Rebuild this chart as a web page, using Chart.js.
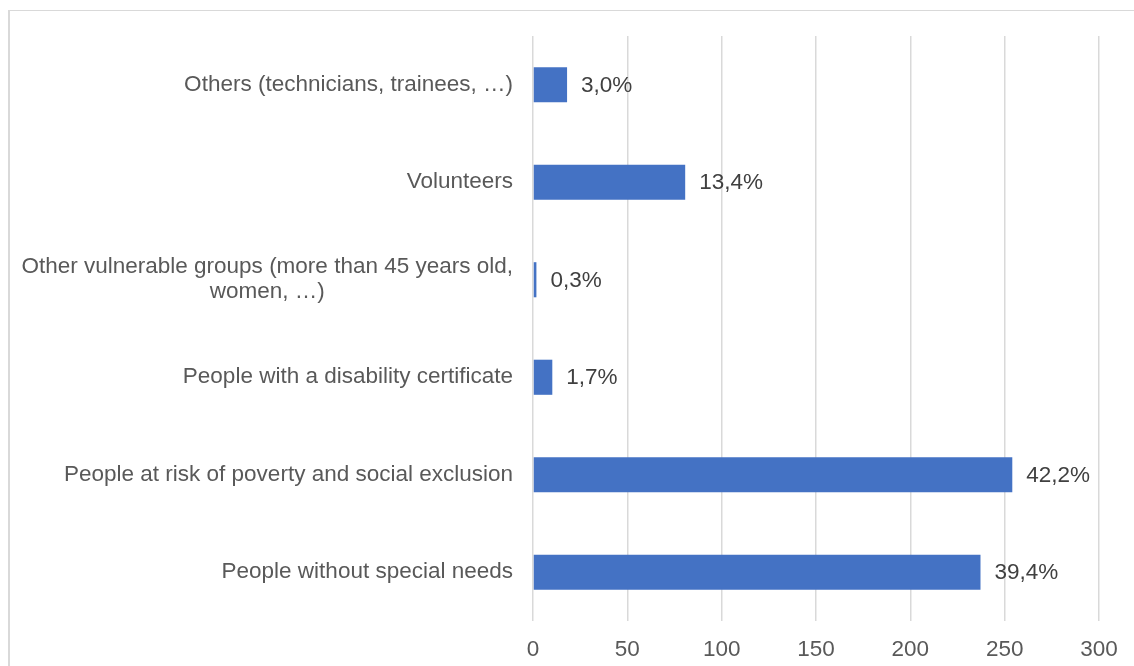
<!DOCTYPE html>
<html>
<head>
<meta charset="utf-8">
<title>Participants by group</title>
<script src="https://cdn.jsdelivr.net/npm/chart.js@4/dist/chart.umd.min.js"></script>
<style>
    html, body { margin: 0; padding: 0; background: #fff; }
    #wrap { position: relative; width: 1134px; height: 666px; overflow: hidden; }
    #frame {
        position: absolute; left: 8px; top: 10px; width: 1200px; height: 700px;
        border-top: 1px solid #d9d9d9; border-left: 2px solid #d9d9d9;
    }
    #myChart { position: absolute; left: 0; top: 0; }
</style>
</head>
<body>
<div id="wrap">
    <div id="frame"></div>
    <canvas id="myChart" width="1134" height="666"></canvas>
</div>
<script>
// Groups, top to bottom
var categories = [
    ["Others (technicians, trainees, …)"],
    ["Volunteers"],
    ["Other vulnerable groups (more than 45 years old,", "women, …)"],
    ["People with a disability certificate"],
    ["People at risk of poverty and social exclusion"],
    ["People without special needs"]
];
// Share of all participants (%), as printed next to each bar
var shares = [3.0, 13.4, 0.3, 1.7, 42.2, 39.4];
var totalPeople = 602;
var xTicks = [0, 50, 100, 150, 200, 250, 300];

var people = shares.map(function (s) { return s * totalPeople / 100; });

var FONT = "'Liberation Sans', Arial, sans-serif";
var FONT_SIZE = 22.5;

// category names drawn right-aligned as a block, lines centred inside it
var groupLabels = {
    id: 'groupLabels',
    afterDraw: function (chart) {
        var ctx = chart.ctx;
        var y = chart.scales.y;
        ctx.save();
        ctx.font = FONT_SIZE + 'px ' + FONT;
        ctx.fillStyle = '#595959';
        ctx.textAlign = 'center';
        ctx.textBaseline = 'middle';
        categories.forEach(function (lines, i) {
            var w = Math.max.apply(null, lines.map(function (l) { return ctx.measureText(l).width; }));
            var cx = y.right - 20 - w / 2;
            var cy = y.getPixelForTick(i);
            var lh = 25;
            lines.forEach(function (l, k) {
                ctx.fillText(l, cx, cy + (k - (lines.length - 1) / 2) * lh);
            });
        });
        ctx.restore();
    }
};

// percentage printed just past the end of each bar
var shareLabels = {
    id: 'shareLabels',
    afterDatasetsDraw: function (chart) {
        var ctx = chart.ctx;
        var meta = chart.getDatasetMeta(0);
        ctx.save();
        ctx.font = FONT_SIZE + 'px ' + FONT;
        ctx.fillStyle = '#404040';
        ctx.textAlign = 'left';
        ctx.textBaseline = 'middle';
        meta.data.forEach(function (bar, i) {
            ctx.fillText(shares[i].toFixed(1).replace('.', ',') + '%', bar.x + 14, bar.y + 1);
        });
        ctx.restore();
    }
};

new Chart(document.getElementById('myChart'), {
    type: 'bar',
    data: {
        labels: categories.map(function (c) { return c.join(' '); }),
        datasets: [{
            data: people,
            backgroundColor: '#4472C4',
            borderWidth: 0,
            barPercentage: 0.36,
            categoryPercentage: 1
        }]
    },
    options: {
        indexAxis: 'y',
        responsive: false,
        animation: false,
        events: [],
        layout: { padding: { top: 36, right: 35, bottom: 0, left: 0 } },
        plugins: {
            legend: { display: false },
            tooltip: { enabled: false }
        },
        scales: {
            x: {
                min: 0,
                max: 300,
                afterBuildTicks: function (axis) {
                    axis.ticks = xTicks.map(function (v) { return { value: v }; });
                },
                grid: { color: '#d9d9d9', lineWidth: 1.5, drawTicks: false },
                border: { display: false },
                ticks: {
                    color: '#595959',
                    font: { family: FONT, size: FONT_SIZE },
                    padding: 15
                },
                afterFit: function (axis) { axis.height = 45; }
            },
            y: {
                grid: { display: false },
                border: { display: false },
                ticks: { display: false },
                afterFit: function (axis) { axis.width = 533; }
            }
        }
    },
    plugins: [groupLabels, shareLabels]
});
</script>
</body>
</html>
